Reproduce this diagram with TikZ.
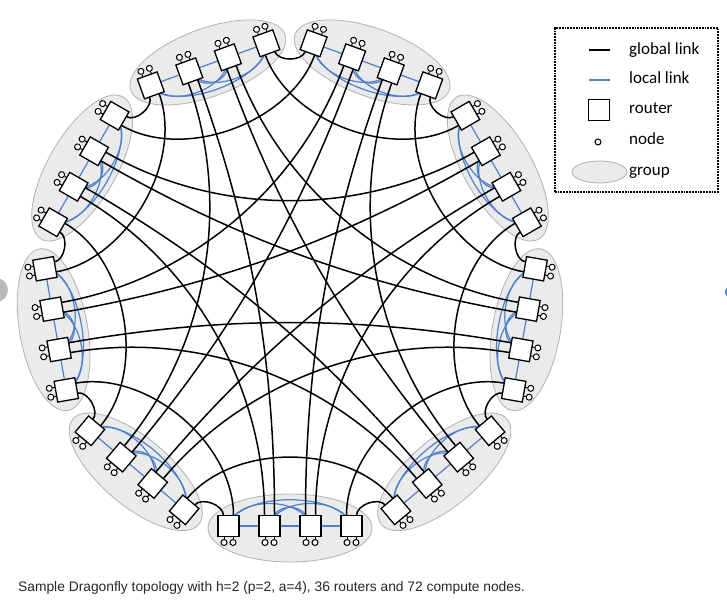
\documentclass[tikz,border=0pt]{standalone}
\usepackage{fontspec}
\setmainfont{Carlito}
\newfontfamily\captionfont{Liberation Sans}
\usepackage{tikz}
\definecolor{locblue}{RGB}{78,128,204}
\definecolor{grpfill}{RGB}{235,235,235}
\definecolor{grpline}{RGB}{178,178,178}
\tikzset{
  router/.style={draw,line width=1.3pt,fill=white,minimum size=21pt,inner sep=0pt},
  cnode/.style={draw,circle,line width=1pt,fill=white,minimum size=6pt,inner sep=0pt},
  stem/.style={line width=1pt},
  glink/.style={line width=1.5pt},
  llink/.style={locblue,line width=1.2pt},
  group/.style={fill=grpfill,draw=grpline,line width=0.8pt},
  legtext/.style={anchor=base west,inner sep=0pt,font=\fontsize{17}{20}\selectfont}
}

\begin{document}
\begin{tikzpicture}[x=1pt,y=1pt]
		\useasboundingbox (0,0) rectangle (727,608);
		\fill[gray!55] (-4,318) circle (12);
		\fill[locblue] (731,316) circle (6);
		% groups
		\foreach \k in {0,...,8} {
			\pgfmathsetmacro\ang{270+40*\k}
			\begin{scope}[shift={(290,320)},rotate=\ang+90]
				\draw[group] (0,-240) ellipse (82 and 34);
			\end{scope}
		}
		% routers, compute nodes and local links
		\foreach \k in {0,...,8} {
			\pgfmathsetmacro\ang{270+40*\k}
			\begin{scope}[shift={(290,320)},rotate=\ang+90,transform shape]
				\foreach \r/\x in {0/-61.5,1/-20.5,2/20.5,3/61.5}
					\coordinate (c\k-\r) at (\x,-238);
				\draw[llink] (c\k-0) -- (c\k-3);
				\draw[llink] (c\k-0) .. controls +(10,35) and +(-10,35) .. (c\k-3);
				\draw[llink] (c\k-0) .. controls +(8,30) and +(-8,30) .. (c\k-2);
				\draw[llink] (c\k-1) .. controls +(8,30) and +(-8,30) .. (c\k-3);
				\draw[llink] (c\k-1) .. controls +(4,25) and +(-4,25) .. (c\k-2);
				\foreach \r/\x/\ja/\jb in {0/-61.5/0/1,1/-20.5/2/3,2/20.5/4/5,3/61.5/6/7} {
					\node[router] (r\k-\r) at (c\k-\r) {};
					\coordinate (s\k-\r-0) at (\x-4.5,-248.5);
					\coordinate (s\k-\r-1) at (\x+4.5,-248.5);
					\node[cnode] (n\k-\r-0) at (\x-4.5,-254.5) {};
					\node[cnode] (n\k-\r-1) at (\x+4.5,-254.5) {};
					\draw[stem] (s\k-\r-0) -- (n\k-\r-0);
					\draw[stem] (s\k-\r-1) -- (n\k-\r-1);
					\coordinate (p\k-\ja) at (\x-5,-227.5);
					\coordinate (p\k-\jb) at (\x+5,-227.5);
				}
			\end{scope}
		}
		% global links
		\foreach \k in {0,...,8} {
			\foreach \j in {4,...,7} {
				\pgfmathtruncatemacro\m{mod(\k+8-\j,9)}
				\pgfmathtruncatemacro\i{7-\j}
				\pgfmathsetmacro\a{90+40*\k}
				\pgfmathsetmacro\b{90+40*\m}
				\draw[glink] (p\k-\j) to[out=\a,in=\b,looseness=0.9] (p\m-\i);
			}
		}
		% legend
		\draw[line width=1.8pt,densely dotted] (555,416) rectangle (718,580);
		\coordinate (ga) at (589,558);
		\coordinate (gb) at (610,558);
		\draw[glink] (ga) -- (gb);
		\coordinate (la) at (589,528);
		\coordinate (lb) at (610,528);
		\draw[llink] (la) -- (lb);
		\node[router] (legrouter) at (599,498) {};
		\node[cnode] (legnode) at (598,466) {};
		\draw[group] (599.5,436) ellipse (27.5 and 11);
		\node[legtext] (tglobal) at (629,553) {global link};
		\node[legtext] (tlocal) at (629,524) {local link};
		\node[legtext] (trouter) at (629,494) {router};
		\node[legtext] (tnode) at (629,463) {node};
		\node[legtext] (tgroup) at (629,432) {group};
		% caption
		\node[anchor=base west,inner sep=0pt,text=black!85,font=\captionfont\fontsize{13.8}{16}\selectfont] (caption) at (18,17) {Sample Dragonfly topology with h=2 (p=2, a=4), 36 routers and 72 compute nodes.};
\end{tikzpicture}
\end{document}
